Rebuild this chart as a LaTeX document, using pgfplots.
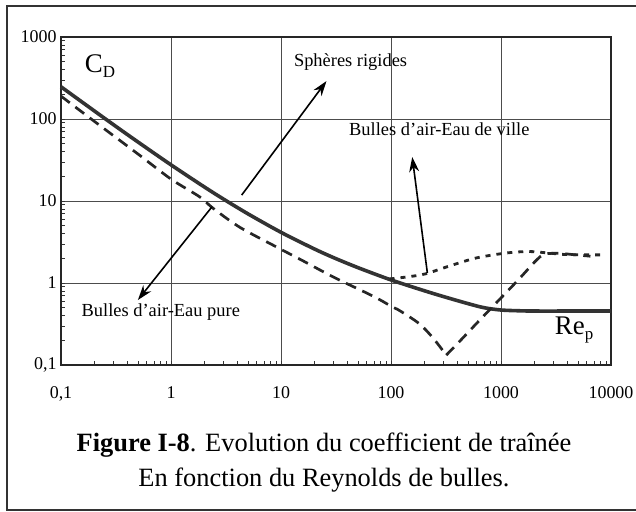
\documentclass[border=0pt]{standalone}
\usepackage{fontspec}
\setmainfont{Liberation Serif}
\usepackage{pgfplots}
\pgfplotsset{compat=1.18}
\usetikzlibrary{arrows.meta}
\begin{document}
\begin{tikzpicture}[x=1bp,y=1bp]
\path[use as bounding box] (0,0) rectangle (636,512);
\draw[line width=1.8bp, black!80] (7,2) rectangle (670,506);
\begin{axis}[at={(61bp,147bp)}, anchor=south west, scale only axis,
  width=550bp, height=328bp,
  xmode=log, ymode=log, xmin=0.1, xmax=10000, ymin=0.1, ymax=1000,
  xtick={0.1,1,10,100,1000,10000}, xticklabels={{0,1},1,10,100,1000,10000},
  ytick={0.1,1,10,100,1000}, yticklabels={{0,1},1,10,100,1000},
  xtick pos=bottom, ytick pos=left, tick align=inside,
  major tick length=0pt, minor tick length=4bp,
  minor tick style={black!80, line width=0.7bp},
  grid=major, grid style={black!70, line width=0.8bp},
  axis line style={black!85, line width=1.2bp},
  ticklabel style={font=\fontsize{18}{21}\selectfont},
  xticklabel style={yshift=-18bp},
  yticklabel style={xshift=-1bp},
  clip=false]
% Spheres rigides (solid)
\addplot[line width=3.6bp, black!80, smooth] coordinates {
 (0.1,247)(0.2,126)(0.3,85.2)(0.5,52.5)(1,27.6)(2,14.9)(3,10.55)(5,6.98)(10,4.15)
 (20,2.61)(30,2.04)(50,1.54)(100,1.09)(200,0.806)(300,0.683)(500,0.561)(700,0.50)
 (1000,0.468)(1500,0.458)(2000,0.455)(5000,0.455)(10000,0.455)};
% Bulles d'air - eau pure (dashed), descending branch
\addplot[line width=2.7bp, black!85, dash pattern=on 11bp off 7bp, smooth] coordinates {
 (0.1,190)(0.2,94)(0.5,37.5)(1,18.5)(1.83,11.2)(2.4,8.2)(4.2,4.8)(9.1,2.75)(16,1.85)
 (30,1.18)(60,0.755)(80,0.62)(103,0.51)(120,0.46)(180,0.32)(240,0.215)(318,0.132)};
% rising branch
\addplot[line width=2.7bp, black!85, dash pattern=on 11bp off 7bp, smooth] coordinates {
 (318,0.132)(420,0.194)(634,0.348)(963,0.624)(1460,1.12)(2100,1.9)(2500,2.25)
 (3400,2.3)(4500,2.22)(6500,2.12)};
% Bulles d'air - eau de ville (dotted)
\addplot[line width=2.8bp, black!85, dash pattern=on 5bp off 6bp, smooth] coordinates {
 (97,1.12)(150,1.2)(209,1.3)(339,1.61)(596,2.02)(1114,2.32)(1800,2.42)(2700,2.32)
 (4000,2.22)(9000,2.2)};
% arrows
\draw[line width=1.6bp, -{Stealth[length=15bp,width=10bp]}] (axis cs:4.39,11.8) -- (axis cs:25.9,290);
\draw[line width=1.6bp, -{Stealth[length=15bp,width=10bp]}] (axis cs:2.35,8.45) -- (axis cs:0.50,0.62);
\draw[line width=1.6bp, -{Stealth[length=15bp,width=10bp]}] (axis cs:214,1.33) -- (axis cs:156,34.4);
% labels
\node[font=\fontsize{27}{30}\selectfont] at (axis cs:0.226,443) {C\raisebox{-0.35ex}{\fontsize{17}{18}\selectfont D}};
\node[font=\fontsize{18.5}{20}\selectfont] at (axis cs:42.9,496) {Sphères rigides};
\node[font=\fontsize{18.5}{20}\selectfont] at (axis cs:275,75.5) {Bulles d'air-Eau de ville};
\node[font=\fontsize{18.5}{20}\selectfont] at (axis cs:0.808,0.443) {Bulles d'air-Eau pure};
\node[font=\fontsize{27}{30}\selectfont] at (axis cs:4613,0.267) {Re\raisebox{-0.35ex}{\fontsize{17}{18}\selectfont p}};
\end{axis}
\node[font=\fontsize{26.5}{30}\selectfont] at (324,67) {\textbf{Figure I-8}. Evolution du coefficient de traînée};
\node[font=\fontsize{26.5}{30}\selectfont] at (324,32) {En fonction du Reynolds de bulles.};
\end{tikzpicture}
\end{document}
